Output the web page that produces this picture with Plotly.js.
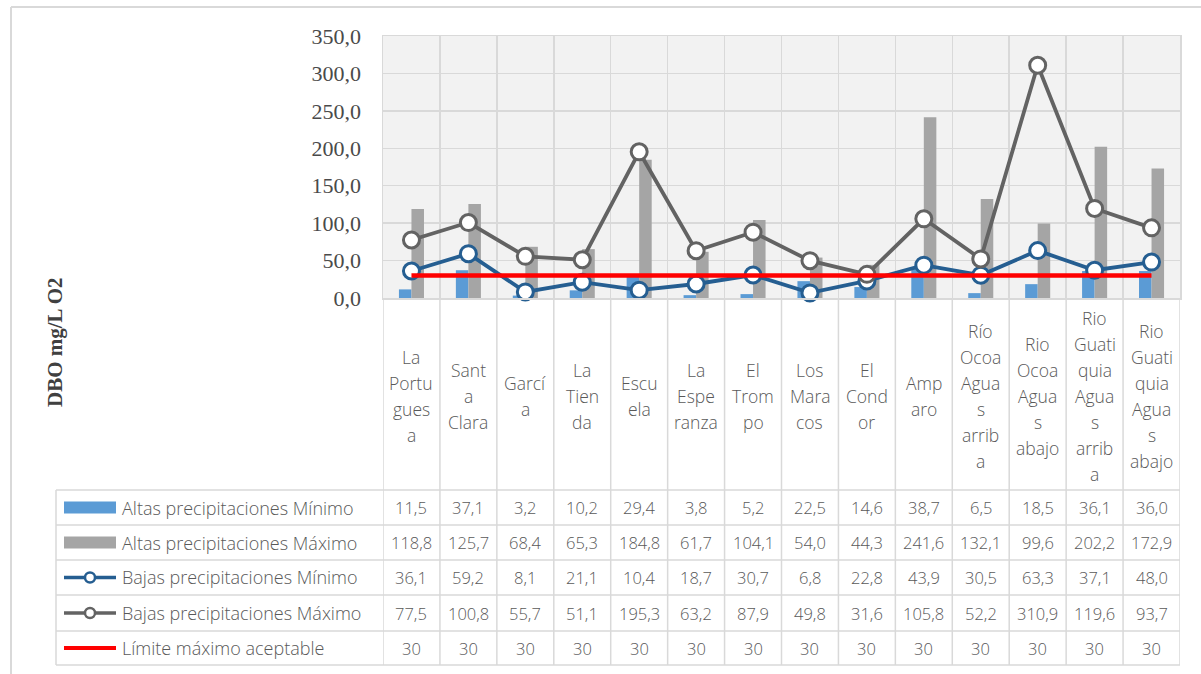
<!DOCTYPE html>
<html>
<head>
<meta charset="utf-8">
<script src="https://cdn.plot.ly/plotly-3.0.1.min.js"></script>
<style>html,body{margin:0;padding:0;background:#fff}#chart{width:1201px;height:674px}</style>
</head>
<body>
<div id="chart"></div>
<script>
// ---- data ----
const categories = ["La Portuguesa","Santa Clara","García","La Tienda","Escuela","La Esperanza","El Trompo","Los Maracos","El Condor","Amparo","Río Ocoa Aguas arriba","Rio Ocoa Aguas abajo","Rio Guatiquia Aguas arriba","Rio Guatiquia Aguas abajo"];
const tickLabels = ["La<br>Portu<br>gues<br>a","Sant<br>a<br>Clara","Garcí<br>a","La<br>Tien<br>da","Escu<br>ela","La<br>Espe<br>ranza","El<br>Trom<br>po","Los<br>Mara<br>cos","El<br>Cond<br>or","Amp<br>aro","Río<br>Ocoa<br>Agua<br>s<br>arrib<br>a","Rio<br>Ocoa<br>Agua<br>s<br>abajo","Rio<br>Guati<br>quia<br>Agua<br>s<br>arrib<br>a","Rio<br>Guati<br>quia<br>Agua<br>s<br>abajo"];
const altasMin = [11.5,37.1,3.2,10.2,29.4,3.8,5.2,22.5,14.6,38.7,6.5,18.5,36.1,36.0];
const altasMax = [118.8,125.7,68.4,65.3,184.8,61.7,104.1,54.0,44.3,241.6,132.1,99.6,202.2,172.9];
const bajasMin = [36.1,59.2,8.1,21.1,10.4,18.7,30.7,6.8,22.8,43.9,30.5,63.3,37.1,48.0];
const bajasMax = [77.5,100.8,55.7,51.1,195.3,63.2,87.9,49.8,31.6,105.8,52.2,310.9,119.6,93.7];
const limite = [30,30,30,30,30,30,30,30,30,30,30,30,30,30];
const seriesNames = ["Altas precipitaciones Mínimo","Altas precipitaciones Máximo","Bajas precipitaciones Mínimo","Bajas precipitaciones Máximo","Límite máximo aceptable"];
const yTitle = "DBO mg/L O2";

// ---- styling / layout geometry ----
const W=1201,H=674, L=383,R=1180,T=36,B=298;
const px2x = p => (p-L)/(R-L);
const py2y = p => (B-p)/(B-T);
const txtCol = "#595959", grid = "#d9d9d9";
const sansFont = "Open Sans";
const sansWeight = 300;
const colBlue="#5b9bd5", colGray="#a5a5a5", colLineBlue="#255e91", colLineGray="#636363", colRed="#ff0000";

const traces = [
  {type:"bar", name:seriesNames[0], x:categories, y:altasMin, marker:{color:colBlue}},
  {type:"bar", name:seriesNames[1], x:categories, y:altasMax, marker:{color:colGray}},
  {type:"scatter", mode:"lines+markers", name:seriesNames[2], x:categories, y:bajasMin, cliponaxis:false,
   line:{color:colLineBlue,width:3.8}, marker:{symbol:"circle",size:16,color:"#ffffff",line:{color:colLineBlue,width:3}}},
  {type:"scatter", mode:"lines+markers", name:seriesNames[3], x:categories, y:bajasMax, cliponaxis:false,
   line:{color:colLineGray,width:3.8}, marker:{symbol:"circle",size:16,color:"#ffffff",line:{color:colLineGray,width:3}}},
  {type:"scatter", mode:"lines", name:seriesNames[4], x:categories, y:limite, cliponaxis:false,
   line:{color:colRed,width:4.5}}
];

const shapes = [];
const annotations = [];
const tableRows = [490,525,560,595,631,665];
const tableData = [altasMin, altasMax, bajasMin, bajasMax, limite];
const fmt = (v, dec) => dec ? v.toFixed(1).replace(".", ",") : String(v);

// outer frame (left & top)
shapes.push({type:"line",xref:"paper",yref:"paper",x0:px2x(11),x1:px2x(11),y0:py2y(7),y1:py2y(H+5),line:{color:grid,width:2}});
shapes.push({type:"line",xref:"paper",yref:"paper",x0:px2x(11),x1:px2x(W+5),y0:py2y(7),y1:py2y(7),line:{color:grid,width:2}});

// vertical separators below plot (category labels + table)
for (let i=0;i<=categories.length;i++){
  shapes.push({type:"line",xref:"x",yref:"paper",x0:i-0.5,x1:i-0.5,y0:py2y(B),y1:py2y(665),line:{color:grid,width:1.5}});
}
// table horizontal lines
tableRows.forEach(r=>{
  shapes.push({type:"line",xref:"paper",yref:"paper",x0:px2x(56),x1:1,y0:py2y(r),y1:py2y(r),line:{color:grid,width:1.5}});
});
shapes.push({type:"line",xref:"paper",yref:"paper",x0:px2x(56),x1:px2x(56),y0:py2y(490),y1:py2y(665),line:{color:grid,width:1.5}});

// category labels, one annotation per line
const lineH = 26, labelMid = 396;
tickLabels.forEach((lab,i)=>{
  const parts = lab.split("<br>");
  const top = labelMid - (parts.length-1)*lineH/2;
  parts.forEach((p,k)=>{
    annotations.push({xref:"x",yref:"paper",x:i,y:py2y(top+k*lineH),text:p,showarrow:false,
      xanchor:"center",yanchor:"middle",font:{family:sansFont,weight:sansWeight,size:17.5,color:txtCol}});
  });
});

// table values and legend
tableData.forEach((arr,r)=>{
  const cy = (tableRows[r]+tableRows[r+1])/2;
  const dec = r<4;
  arr.forEach((v,i)=>{
    annotations.push({xref:"x",yref:"paper",x:i,y:py2y(cy),text:fmt(v,dec),showarrow:false,
      xanchor:"center",yanchor:"middle",font:{family:sansFont,weight:sansWeight,size:16.5,color:txtCol}});
  });
  annotations.push({xref:"paper",yref:"paper",x:px2x(120),y:py2y(cy),text:seriesNames[r],showarrow:false,
    xanchor:"left",yanchor:"middle",font:{family:sansFont,weight:sansWeight,size:18,color:txtCol}});
  const sx0=px2x(64), sx1=px2x(116);
  if (r<2){
    shapes.push({type:"rect",xref:"paper",yref:"paper",x0:sx0,x1:sx1,y0:py2y(cy-6),y1:py2y(cy+6),
      fillcolor:r===0?colBlue:colGray,line:{width:0}});
  } else if (r<4){
    const c = r===2?colLineBlue:colLineGray;
    shapes.push({type:"line",xref:"paper",yref:"paper",x0:sx0,x1:sx1,y0:py2y(cy),y1:py2y(cy),line:{color:c,width:3.5}});
    shapes.push({type:"circle",xref:"paper",yref:"paper",x0:px2x(85),x1:px2x(95),y0:py2y(cy-5),y1:py2y(cy+5),
      fillcolor:"#ffffff",line:{color:c,width:2.5}});
  } else {
    shapes.push({type:"line",xref:"paper",yref:"paper",x0:sx0,x1:sx1,y0:py2y(cy),y1:py2y(cy),line:{color:colRed,width:4}});
  }
});

// y title
annotations.push({xref:"paper",yref:"paper",x:px2x(55),y:py2y(342),text:"<b>"+yTitle+"</b>",textangle:-90,showarrow:false,
  xanchor:"center",yanchor:"middle",font:{family:"Liberation Serif",size:21,color:"#404040"}});

const layout = {
  width:W,height:H,
  margin:{l:L,r:W-R,t:T,b:H-B,pad:0},
  paper_bgcolor:"#ffffff",
  plot_bgcolor:"#f2f2f2",
  separators:", ",
  showlegend:false,
  barmode:"group",
  bargap:0.56,
  bargroupgap:0,
  xaxis:{type:"category",range:[-0.5,categories.length-0.5],autorange:false,showticklabels:false,tickson:"boundaries",showgrid:true,gridcolor:grid,gridwidth:1.5,
    showline:true,mirror:true,linecolor:grid,linewidth:1.5,ticks:"",zeroline:false,fixedrange:true},
  yaxis:{range:[0,350],autorange:false,dtick:50,tickformat:".1f",showgrid:true,gridcolor:grid,gridwidth:1.5,
    showline:true,mirror:true,linecolor:grid,linewidth:1.5,ticks:"",zeroline:false,ticklabelstandoff:16,
    tickfont:{family:"Liberation Serif",size:22,color:"#4a4a4a"},fixedrange:true},
  shapes:shapes,
  annotations:annotations
};

Plotly.newPlot("chart", traces, layout, {displayModeBar:false, staticPlot:true});
</script>
</body>
</html>
